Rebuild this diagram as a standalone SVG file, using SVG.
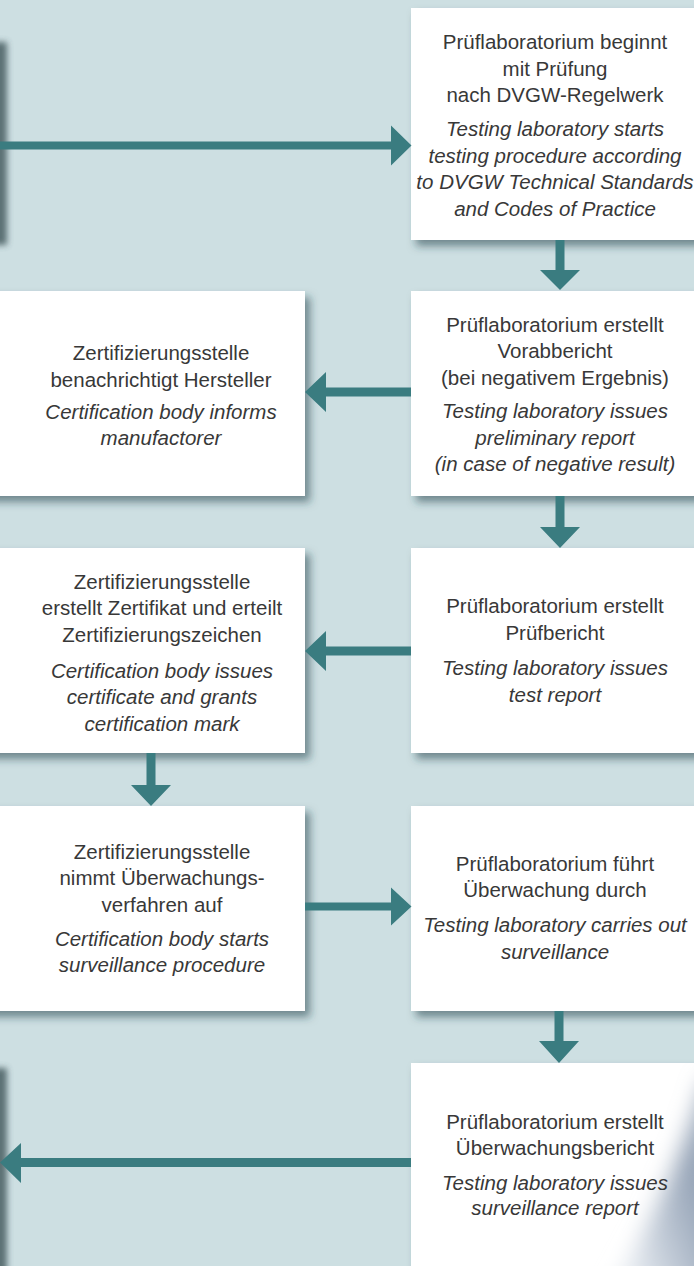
<svg xmlns="http://www.w3.org/2000/svg" width="694" height="1266" viewBox="0 0 694 1266">
<style>
.bx{fill:#ffffff;filter:url(#sh)}
.ar{fill:#3a7c80}
.edge{fill:#344c50;filter:url(#bl)}
text{font-family:"Liberation Sans",Arial,sans-serif;font-size:20.5px;fill:#383838;text-anchor:middle}
.it{font-style:italic}
</style>
<defs>
<filter id="sh" x="-20%" y="-20%" width="140%" height="140%">
<feDropShadow dx="5" dy="6" stdDeviation="4" flood-color="#1f3d47" flood-opacity="0.55"/>
</filter>
<filter id="bl" x="-50%" y="-20%" width="200%" height="140%">
<feGaussianBlur stdDeviation="3"/>
</filter>
<filter id="soft" x="-50%" y="-50%" width="200%" height="200%">
<feGaussianBlur stdDeviation="11"/>
</filter>
<linearGradient id="gloss" gradientUnits="userSpaceOnUse" x1="620" y1="1230" x2="700" y2="1200">
<stop offset="0" stop-color="#e4e9ef"/>
<stop offset="0.5" stop-color="#bcc6d3"/>
<stop offset="1" stop-color="#97a5b8"/>
</linearGradient>
<clipPath id="c5"><rect x="411" y="1063" width="283" height="203"/></clipPath>
</defs>
<rect x="0" y="0" width="694" height="1266" fill="#cddfe2"/>

<g id="offscreen-top"><rect class="edge" x="-20" y="42" width="27" height="203" opacity="0.75"/></g>
<g id="offscreen-bottom"><rect class="edge" x="-20" y="1068" width="27" height="220" opacity="0.75"/></g>

<g id="n1">
<rect class="bx" x="411" y="8" width="300" height="232"/>
<text x="555" y="49">Prüflaboratorium beginnt</text>
<text x="555" y="76">mit Prüfung</text>
<text x="555" y="102">nach DVGW-Regelwerk</text>
<text class="it" x="555" y="136">Testing laboratory starts</text>
<text class="it" x="555" y="163">testing procedure according</text>
<text class="it" x="555" y="189">to DVGW Technical Standards</text>
<text class="it" x="555" y="216">and Codes of Practice</text>
</g>

<g id="n2r">
<rect class="bx" x="411" y="291" width="300" height="205"/>
<text x="555" y="332">Prüflaboratorium erstellt</text>
<text x="555" y="358">Vorabbericht</text>
<text x="555" y="385">(bei negativem Ergebnis)</text>
<text class="it" x="555" y="418">Testing laboratory issues</text>
<text class="it" x="555" y="445">preliminary report</text>
<text class="it" x="555" y="471">(in case of negative result)</text>
</g>

<g id="n2l">
<rect class="bx" x="-20" y="291" width="325" height="205"/>
<text x="161" y="360">Zertifizierungsstelle</text>
<text x="161" y="387">benachrichtigt Hersteller</text>
<text class="it" x="161" y="419">Certification body informs</text>
<text class="it" x="161" y="445">manufactorer</text>
</g>

<g id="n3r">
<rect class="bx" x="411" y="548" width="300" height="205"/>
<text x="555" y="613">Prüflaboratorium erstellt</text>
<text x="555" y="640">Prüfbericht</text>
<text class="it" x="555" y="675">Testing laboratory issues</text>
<text class="it" x="555" y="702">test report</text>
</g>

<g id="n3l">
<rect class="bx" x="-20" y="548" width="325" height="205"/>
<text x="162" y="589">Zertifizierungsstelle</text>
<text x="162" y="615">erstellt Zertifikat und erteilt</text>
<text x="162" y="642">Zertifizierungszeichen</text>
<text class="it" x="162" y="678">Certification body issues</text>
<text class="it" x="162" y="704">certificate and grants</text>
<text class="it" x="162" y="731">certification mark</text>
</g>

<g id="n4l">
<rect class="bx" x="-20" y="806" width="325" height="205"/>
<text x="162" y="859">Zertifizierungsstelle</text>
<text x="162" y="885">nimmt Überwachungs-</text>
<text x="162" y="912">verfahren auf</text>
<text class="it" x="162" y="946">Certification body starts</text>
<text class="it" x="162" y="972">surveillance procedure</text>
</g>

<g id="n4r">
<rect class="bx" x="411" y="806" width="300" height="205"/>
<text x="555" y="871">Prüflaboratorium führt</text>
<text x="555" y="897">Überwachung durch</text>
<text class="it" x="555" y="932">Testing laboratory carries out</text>
<text class="it" x="555" y="959">surveillance</text>
</g>

<g id="n5r">
<rect class="bx" x="411" y="1063" width="300" height="230"/>
<g clip-path="url(#c5)">
<path d="M705,1080 C685,1150 655,1215 610,1295 L730,1295 L730,1080 Z" fill="url(#gloss)" filter="url(#soft)"/>
</g>
<text x="555" y="1129">Prüflaboratorium erstellt</text>
<text x="555" y="1155">Überwachungsbericht</text>
<text class="it" x="555" y="1190">Testing laboratory issues</text>
<text class="it" x="555" y="1215">surveillance report</text>
</g>

<g id="connectors">
<path class="ar" d="M0,141.5H391V125.5L411.5,145.5L391,165.5V149.5H0Z"/>
<path class="ar" d="M555.5,240H564.5V270H580L560,290L540,270H555.5Z"/>
<path class="ar" d="M411,387.5H326V372L305,392L326,412V396.5H411Z"/>
<path class="ar" d="M555.5,496H564.5V527H580L560,548L540,527H555.5Z"/>
<path class="ar" d="M411,646.5H326V631L305,651L326,671V655.5H411Z"/>
<path class="ar" d="M146.5,753H155.5V785H171L151,806L131,785H146.5Z"/>
<path class="ar" d="M305,902.5H391V887.5L411.5,906.5L391,925.5V910.5H305Z"/>
<path class="ar" d="M554.5,1011H563.5V1041H579L559,1063L539,1041H554.5Z"/>
<path class="ar" d="M411,1158H21V1143L0,1162.5L21,1183V1167H411Z"/>
</g>
</svg>
